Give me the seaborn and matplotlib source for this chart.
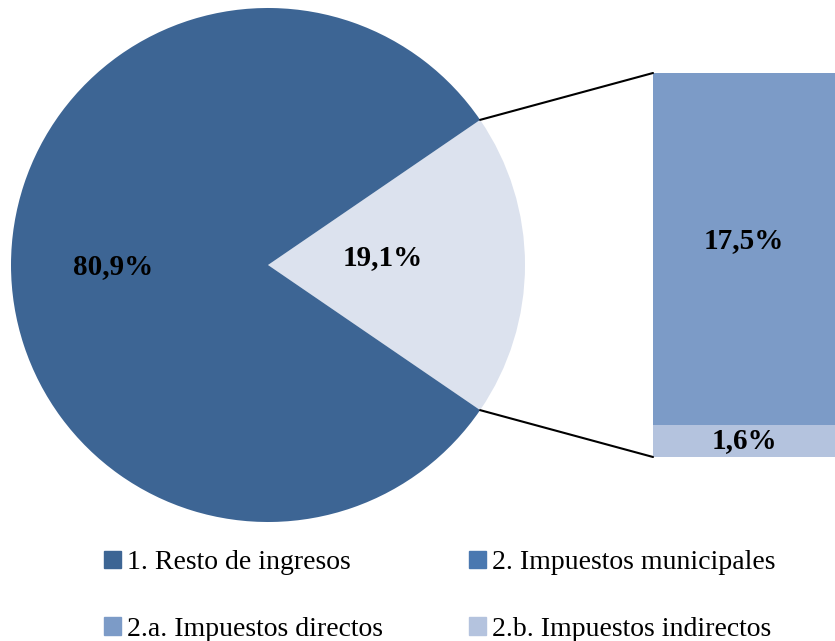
import numpy as np
import pandas as pd
import matplotlib
matplotlib.use("Agg")
import matplotlib.pyplot as plt
import seaborn as sns
from matplotlib.patches import Patch, ConnectionPatch
from matplotlib.transforms import offset_copy

# ---- data ----
pie_labels = ["1. Resto de ingresos", "2. Impuestos municipales"]
pie_values = [80.9, 19.1]
bar_labels = ["2.a. Impuestos directos", "2.b. Impuestos indirectos"]
bar_values = [17.5, 1.6]

c_resto = "#3D6594"
c_mun_slice = "#DCE2EE"
c_mun_legend = "#4A78B0"
c_dir = "#7C9BC7"
c_ind = "#B4C3DE"

sns.set_theme(style="white")
plt.rcParams["font.family"] = ["Liberation Serif", "DejaVu Serif"]
plt.rcParams["text.color"] = "black"

W, H = 835, 641
fig = plt.figure(figsize=(W / 100, H / 100), dpi=100)

# pie axes
cx, cy, r = 268, 265, 257
ax1 = fig.add_axes([(cx - r) / W, (H - cy - r) / H, 2 * r / W, 2 * r / H])
frac_mun = pie_values[1] / sum(pie_values)
start = -frac_mun * 360 / 2
ax1.pie(pie_values[::-1], colors=[c_mun_slice, c_resto], startangle=start,
        counterclock=True, radius=1, wedgeprops=dict(linewidth=0))
ax1.set_xlim(-1, 1)
ax1.set_ylim(-1, 1)
ax1.set_aspect("equal")
ax1.axis("off")
lab_fs = 21
ax1.text(-0.603, -0.005, "80,9%", ha="center", va="center",
         fontsize=lab_fs, fontweight="bold", color="black")
ax1.text(0.447, 0.03, "19,1%", ha="center", va="center",
         fontsize=lab_fs, fontweight="bold", color="black")

# bar axes
bx0, bx1, by0, by1 = 653, 835, 73, 457
ax2 = fig.add_axes([bx0 / W, (H - by1) / H, (bx1 - bx0) / W, (by1 - by0) / H])
total = sum(bar_values)
df_top = pd.DataFrame({"g": ["x"], "v": [total]})
df_bot = pd.DataFrame({"g": ["x"], "v": [bar_values[1]]})
sns.barplot(data=df_top, x="g", y="v", color=c_dir, width=1.0, ax=ax2,
            saturation=1, linewidth=0)
sns.barplot(data=df_bot, x="g", y="v", color=c_ind, width=1.0, ax=ax2,
            saturation=1, linewidth=0)
ax2.set_xlim(-0.5, 0.5)
ax2.set_ylim(0, total)
ax2.axis("off")
ax2.text(0, bar_values[1] + bar_values[0] / 2, "17,5%", ha="center", va="center",
         fontsize=lab_fs, fontweight="bold", color="black",
         transform=offset_copy(ax2.transData, fig=fig, x=0, y=6, units="points"))
ax2.text(0, bar_values[1] / 2, "1,6%", ha="center", va="center",
         fontsize=lab_fs, fontweight="bold", color="black")

# connector lines
theta = np.deg2rad(frac_mun * 360 / 2)
for sgn, yb in [(1, total), (-1, 0)]:
    con = ConnectionPatch(xyA=(np.cos(theta), sgn * np.sin(theta)), coordsA=ax1.transData,
                          xyB=(-0.5, yb), coordsB=ax2.transData,
                          color="black", linewidth=1.5)
    fig.add_artist(con)

# legend
handles = [Patch(color=c_resto), Patch(color=c_dir), Patch(color=c_mun_legend), Patch(color=c_ind)]
labels = [pie_labels[0], bar_labels[0], pie_labels[1], bar_labels[1]]
leg = fig.legend(handles, labels, ncol=2, loc="center", bbox_to_anchor=(440 / W, 45 / H),
                 frameon=False, fontsize=20, handlelength=0.6, handleheight=0.6,
                 handletextpad=0.22, columnspacing=3.1, labelspacing=1.5)
for t in leg.get_texts():
    t.set_color("black")

fig.savefig("out.png", dpi=100)
